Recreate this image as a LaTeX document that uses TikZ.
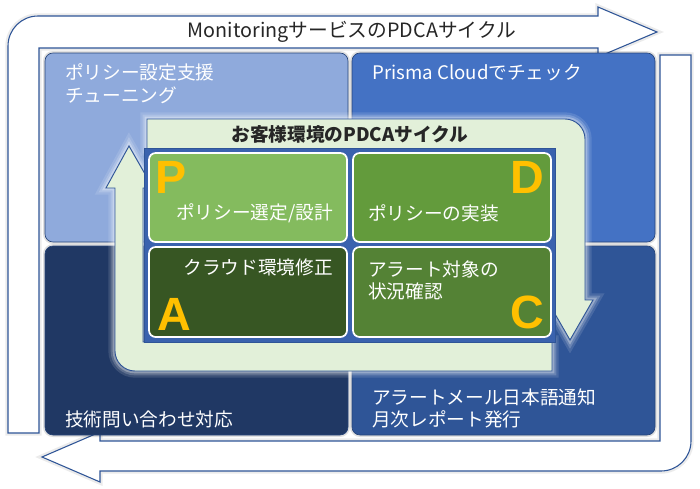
\documentclass[tikz,border=0pt]{standalone}
\usepackage{fontspec}
\setmainfont{Noto Sans CJK JP}
\newfontfamily\letterfont{Liberation Sans}
\definecolor{navy}{HTML}{2F5597}
\definecolor{cTL}{HTML}{8FAADC}
\definecolor{cTR}{HTML}{4472C4}
\definecolor{cBL}{HTML}{203864}
\definecolor{cBR}{HTML}{2F5597}
\definecolor{gP}{HTML}{84BB5E}
\definecolor{gD}{HTML}{639B3C}
\definecolor{gA}{HTML}{375623}
\definecolor{gC}{HTML}{548235}
\definecolor{band}{HTML}{E2F0D9}
\definecolor{letter}{HTML}{FFC000}
\definecolor{titlecol}{HTML}{262626}
\definecolor{innerblue}{HTML}{3A62AE}
\tikzset{
  bigarrow/.style={fill=white, draw=navy, line width=0.8pt, line join=miter,
    preaction={draw=black, opacity=0.08, line width=4pt}},
  outercell/.style={rounded corners=6pt, draw=navy!80!black, line width=0.5pt,
    preaction={draw=black, opacity=0.12, line width=3pt}},
  greencell/.style={rounded corners=5pt, draw=white, line width=1.3pt},
  bandshape/.style={fill=band, draw=navy, line width=0.7pt, line join=miter,
    preaction={draw=white, opacity=0.12, line width=10pt},
    preaction={draw=white, opacity=0.18, line width=6.5pt},
    preaction={draw=white, opacity=0.3, line width=3.5pt}},
  celltext/.style={text=white, font=\fontsize{14}{17}\selectfont, inner sep=0pt, align=left},
  bigletter/.style={text=letter, font=\letterfont\bfseries\fontsize{35}{35}\selectfont, inner sep=0pt},
}
\begin{document}
\begin{tikzpicture}[x=0.75pt,y=-0.75pt]
\useasboundingbox (0,0) rectangle (700,489);
\fill[white] (0,0) rectangle (700,489);

% outer monitoring cycle arrows
\path[bigarrow] (39,433) -- (8,433) -- (8,46) .. controls (8,29.4) and (21.4,16) .. (38,16)
  -- (598,16) -- (598,7) -- (657,32) -- (598,57) -- (598,48) -- (39,48) -- cycle;
\path[bigarrow] (660,55) -- (691,55) -- (691,441) .. controls (691,457.6) and (677.6,471) .. (661,471)
  -- (100,471) -- (100,482) -- (42,457) -- (100,432) -- (100,441) -- (660,441) -- cycle;
\node[inner sep=0pt, text=titlecol, font=\fontsize{14.8}{17}\selectfont] (title) at (352,32) {MonitoringサービスのPDCAサイクル};

% outer cells
\path[outercell, fill=cTL] (45,53) rectangle (348,242);
\path[outercell, fill=cTR] (352,53) rectangle (655,242);
\path[outercell, fill=cBL] (45,246) rectangle (348,435);
\path[outercell, fill=cBR] (352,246) rectangle (655,435);

\node[celltext, anchor=west] (tltext) at (65,83.5) {ポリシー設定支援\\チューニング};
\node[celltext, anchor=west] (trtext) at (372,73) {Prisma Cloudでチェック};
\node[celltext, anchor=west] (bltext) at (65,419) {技術問い合わせ対応};
\node[celltext, anchor=west] (brtext) at (372,408.5) {アラートメール日本語通知\\月次レポート発行};

% customer PDCA band arrows
\path[bandshape] (147,119) -- (565,119) .. controls (576,119) and (585,128) .. (585,139)
  -- (585,300) -- (593,300) -- (570,340) -- (547,300) -- (555,300) -- (555,149) -- (147,149) -- cycle;
\path[bandshape] (552,342) -- (552,371) -- (135,371) .. controls (124,371) and (115,362) .. (115,351)
  -- (115,188) -- (106,188) -- (129,146) -- (153,188) -- (143,188) -- (143,342) -- cycle;
\node[inner sep=0pt, text=titlecol, font=\bfseries\fontsize{14}{16}\selectfont] (bandtitle) at (350,134) {お客様環境のPDCAサイクル};

% inner area and PDCA cells
\path[fill=innerblue, draw=navy, line width=0.6pt] (144,148) rectangle (555,342);
\path[greencell, fill=gP] (149,153) rectangle (347,242);
\path[greencell, fill=gD] (353,153) rectangle (551,242);
\path[greencell, fill=gA] (149,247) rectangle (347,337);
\path[greencell, fill=gC] (353,247) rectangle (551,337);

\node[bigletter] (P) at (171,177) {P};
\node[bigletter] (D) at (527,177) {D};
\node[bigletter] (A) at (174,314) {A};
\node[bigletter] (C) at (527,312) {C};

\node[celltext, anchor=east] (ptext) at (333,213) {ポリシー選定/設計};
\node[celltext, anchor=west] (dtext) at (368,213) {ポリシーの実装};
\node[celltext, anchor=east] (atext) at (333,267) {クラウド環境修正};
\node[celltext, anchor=west] (ctext) at (368,280.5) {アラート対象の\\状況確認};
\end{tikzpicture}
\end{document}
